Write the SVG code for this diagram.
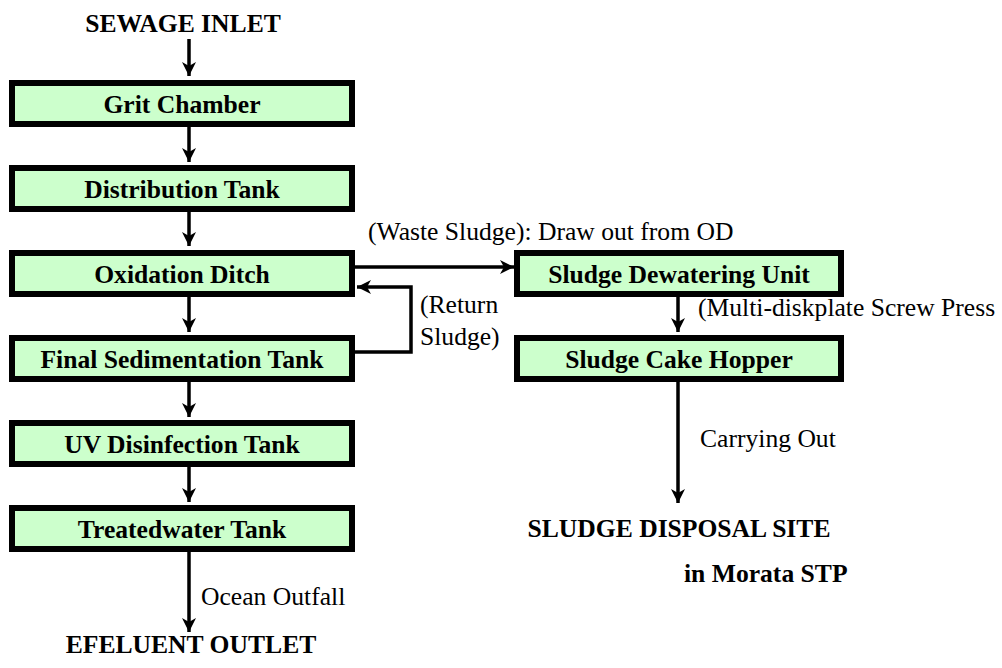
<svg xmlns="http://www.w3.org/2000/svg" width="1002" height="668" viewBox="0 0 1002 668">
<style>
.box{fill:#CCFFCC;stroke:#000;stroke-width:6}
.bl{font-family:'Liberation Serif','Times New Roman','DejaVu Serif',serif;font-weight:bold;font-size:25.6px;fill:#000}
.nl{font-family:'Liberation Serif','Times New Roman','DejaVu Serif',serif;font-size:25.6px;fill:#000}
.c{text-anchor:middle}
.ln{fill:none;stroke:#000;stroke-width:3.5}
</style>
<defs>
<marker id="ah" markerUnits="userSpaceOnUse" markerWidth="16" markerHeight="16" viewBox="-15 -8 16 16" refX="0" refY="0" orient="auto">
<path d="M0,0 L-14,-7 L-10,0 L-14,7 Z" fill="#000"/>
</marker>
</defs>
<rect width="1002" height="668" fill="#fff"/>
<g id="connectors">
<line class="ln" x1="189" y1="39" x2="189" y2="76" marker-end="url(#ah)"/>
<line class="ln" x1="189" y1="127" x2="189" y2="162" marker-end="url(#ah)"/>
<line class="ln" x1="189" y1="212" x2="189" y2="246" marker-end="url(#ah)"/>
<line class="ln" x1="189" y1="296" x2="189" y2="332" marker-end="url(#ah)"/>
<line class="ln" x1="189" y1="381" x2="189" y2="417" marker-end="url(#ah)"/>
<line class="ln" x1="189" y1="466" x2="189" y2="502" marker-end="url(#ah)"/>
<line class="ln" x1="189" y1="551" x2="189" y2="632" marker-end="url(#ah)"/>
<line class="ln" x1="355" y1="267" x2="514" y2="267" marker-end="url(#ah)"/>
<polyline class="ln" points="355,352 411,352 411,287 357,287" marker-end="url(#ah)"/>
<line class="ln" x1="678" y1="296" x2="678" y2="332" marker-end="url(#ah)"/>
<line class="ln" x1="678" y1="381" x2="678" y2="503" marker-end="url(#ah)"/>
<text class="nl" x="368" y="240">(Waste Sludge): Draw out from OD</text>
<text class="nl" x="420" y="313">(Return</text>
<text class="nl" x="420" y="345">Sludge)</text>
<text class="nl" x="698" y="316">(Multi-diskplate Screw Press</text>
<text class="nl" x="700" y="447">Carrying Out</text>
<text class="nl" x="201" y="605">Ocean Outfall</text>
</g>
<g id="sewage-inlet"><text class="bl c" x="183" y="32">SEWAGE INLET</text></g>
<g id="grit-chamber"><rect class="box" x="12" y="83" width="340" height="41"/><text class="bl c" x="182" y="113">Grit Chamber</text></g>
<g id="distribution-tank"><rect class="box" x="12" y="168" width="340" height="41"/><text class="bl c" x="182" y="198">Distribution Tank</text></g>
<g id="oxidation-ditch"><rect class="box" x="12" y="253" width="340" height="41"/><text class="bl c" x="182" y="283">Oxidation Ditch</text></g>
<g id="final-sedimentation-tank"><rect class="box" x="12" y="338" width="340" height="41"/><text class="bl c" x="182" y="368">Final Sedimentation Tank</text></g>
<g id="uv-disinfection-tank"><rect class="box" x="12" y="423" width="340" height="41"/><text class="bl c" x="182" y="453">UV Disinfection Tank</text></g>
<g id="treatedwater-tank"><rect class="box" x="12" y="508" width="340" height="41"/><text class="bl c" x="182" y="538">Treatedwater Tank</text></g>
<g id="effluent-outlet"><text class="bl c" x="191" y="653">EFELUENT OUTLET</text></g>
<g id="sludge-dewatering-unit"><rect class="box" x="517" y="253" width="324" height="41"/><text class="bl c" x="679" y="283">Sludge Dewatering Unit</text></g>
<g id="sludge-cake-hopper"><rect class="box" x="517" y="338" width="324" height="41"/><text class="bl c" x="679" y="368">Sludge Cake Hopper</text></g>
<g id="sludge-disposal-site"><text class="bl c" x="679" y="537">SLUDGE DISPOSAL SITE</text><text class="bl" x="684" y="582">in Morata STP</text></g>
</svg>
